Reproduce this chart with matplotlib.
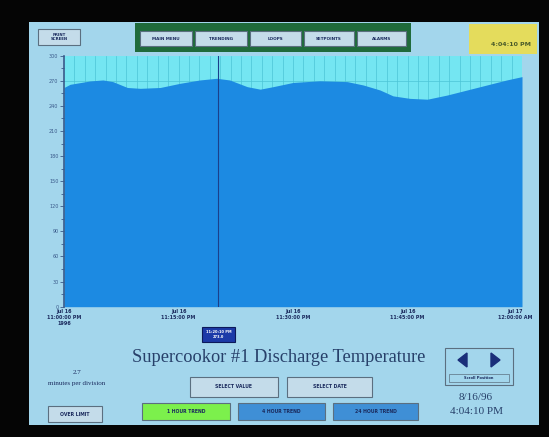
import matplotlib.pyplot as plt
import matplotlib.transforms as mtransforms
from matplotlib.patches import Rectangle, Polygon

# Trend data (minutes after 11:00 PM, temperature)
minutos = [0, 0.8, 3.4, 5.1, 6.4, 8.3, 10.0, 12.6, 15.2, 17.8, 20.0, 21.7,
           24.0, 25.7, 27.4, 30.0, 33.5, 37.1, 39.2, 41.4, 43.1, 45.3, 47.6,
           50.2, 52.8, 55.4, 58.0, 60.0]
temperatura = [262, 265.8, 269.8, 271, 269, 262, 261, 262, 267, 271, 273, 271,
               263, 260, 263, 268, 270, 269, 265, 259, 252, 249, 248,
               253, 259, 265, 271, 275]

y_ticks = [0, 30, 60, 90, 120, 150, 180, 210, 240, 270, 300]
x_ticks = [0, 15, 30, 45, 60]
x_tick_labels = ["Jul 16\n11:00:00 PM\n1996",
                 "Jul 16\n11:15:00 PM",
                 "Jul 16\n11:30:00 PM",
                 "Jul 16\n11:45:00 PM",
                 "Jul 17\n12:00:00 AM"]
cursor_minuto = 20.2
cursor_texto = "11:20:10 PM\n273.0"

menu_botoes = ["MAIN MENU", "TRENDING", "LOOPS", "SETPOINTS", "ALARMS"]
trend_botoes = ["1 HOUR TREND", "4 HOUR TREND", "24 HOUR TREND"]

W, H = 549, 437
NAVY = "#1b2b5e"
TELA = "#a3d6ec"


def fx(x):
    return x / W


def fy(y):
    return 1 - y / H


def caixa(fig, x0, y0, x1, y1, cor, borda="none", lw=0.8, z=1):
    r = Rectangle((fx(x0), fy(y1)), fx(x1) - fx(x0), fy(y0) - fy(y1),
                  transform=fig.transFigure, facecolor=cor,
                  edgecolor=borda, linewidth=lw, zorder=z)
    fig.add_artist(r)


def texto(fig, x, y, s, size=3.5, cor=NAVY, weight="bold", ha="center", **kw):
    fig.text(fx(x), fy(y), s, fontsize=size, color=cor, fontweight=weight,
             ha=ha, va="center", zorder=3, **kw)


def botao(fig, x0, y0, x1, y1, s, cor="#c4dcea", size=3.3):
    caixa(fig, x0, y0, x1, y1, cor, borda="#5b6f80", lw=0.8, z=2)
    texto(fig, (x0 + x1) / 2, (y0 + y1) / 2, s, size=size)


fig = plt.figure(figsize=(5.49, 4.37), dpi=100)
fig.patch.set_facecolor("#050505")

# screen
caixa(fig, 29, 22, 539, 425, TELA, z=-1)

# top bar
botao(fig, 38, 29, 80, 45, "PRINT\nSCREEN", size=2.8)
caixa(fig, 135, 23, 411, 52, "#1f6b3b")
xs = [(140, 192), (195, 247), (250, 301), (304, 354), (357, 406)]
for (x0, x1), nome in zip(xs, menu_botoes):
    botao(fig, x0, 31, x1, 46, nome, size=3.0)
caixa(fig, 469, 24, 537, 54, "#e4dc5c")
texto(fig, 531, 45, "4:04:10 PM", size=4.5, cor="#4a5a2a", ha="right")

# trend plot
ax = fig.add_axes([fx(64), fy(306.7), fx(522) - fx(64), fy(55.7) - fy(306.7)])
ax.set_zorder(1.5)
ax.set_facecolor("#74e6f2")
ax.set_xlim(0, 60)
ax.set_ylim(0, 300)

for i in range(1, 44):
    ax.axvline(i * 60 / 44, color="#4cc4d6", lw=0.5, zorder=1)
for v in y_ticks[1:-1]:
    ax.axhline(v, color="#4cc4d6", lw=0.5, zorder=1)

ax.fill_between(minutos, 0, temperatura, color="#1c8ae2", lw=0, zorder=2)
ax.axvline(cursor_minuto, color="#1b3f8a", lw=0.8, zorder=3)

ax.set_yticks(y_ticks)
ax.set_yticks(range(15, 300, 30), minor=True)
ax.set_xticks(x_ticks)
ax.set_xticklabels(x_tick_labels)
ax.tick_params(axis="y", which="both", colors="#3a5a8a", labelsize=3.5,
               length=3, width=0.6, pad=1)
ax.tick_params(axis="y", which="minor", length=2)
ax.tick_params(axis="x", length=0, labelsize=3.5, colors=NAVY, pad=2)
for lab in ax.get_xticklabels():
    lab.set_fontweight("bold")
# the last date label sits a little inside the screen edge
ultimo = ax.get_xticklabels()[-1]
ultimo.set_transform(ultimo.get_transform() +
                     mtransforms.ScaledTranslation(-0.07, 0, fig.dpi_scale_trans))
for side in ["top", "right", "bottom"]:
    ax.spines[side].set_visible(False)
ax.spines["left"].set_color("#3a5a8a")
ax.spines["left"].set_linewidth(1.2)

# cursor readout box
caixa(fig, 202, 327, 235, 342, "#1c3aa8", borda="#0c1a5a", z=2)
texto(fig, 218.5, 334.5, cursor_texto, size=2.6, cor="white")

# title and lower controls
fig.text(fx(279), fy(357), "Supercookor #1 Discharge Temperature",
         fontsize=13.2, family="Liberation Serif", color="#27406a",
         ha="center", va="center")
texto(fig, 77, 372, "2.7", size=5, weight="normal", family="Liberation Serif")
texto(fig, 77, 383, "minutes per division", size=5, weight="normal",
      family="Liberation Serif")

botao(fig, 190, 377, 278, 397, "SELECT VALUE")
botao(fig, 287, 377, 372, 397, "SELECT DATE")
botao(fig, 48, 406, 102, 422, "OVER LIMIT")

cores_trend = ["#7cf04c", "#3f8fd6", "#3f8fd6"]
xs = [(142, 230), (238, 325), (333, 418)]
for (x0, x1), nome, cor in zip(xs, trend_botoes, cores_trend):
    botao(fig, x0, 403, x1, 420, nome, cor=cor)

# scroll arrows
caixa(fig, 445, 348, 513, 385, TELA, borda="#5b6f80")
caixa(fig, 449, 374, 509, 382, TELA, borda="#5b6f80", lw=0.5)
texto(fig, 479, 378, "Scroll Position", size=2.6)
for tri in ([(467, 353), (467, 367), (458, 360)],
            [(491, 353), (491, 367), (500, 360)]):
    fig.add_artist(Polygon([(fx(a), fy(b)) for a, b in tri],
                           transform=fig.transFigure, color="#1a2f7a"))

texto(fig, 476, 397, "8/16/96", size=8, weight="normal", cor="#27406a",
      family="Liberation Serif")
texto(fig, 476, 412, "4:04:10 PM", size=8, weight="normal", cor="#27406a",
      family="Liberation Serif")

fig.savefig("out.png", dpi=100, facecolor=fig.get_facecolor())
